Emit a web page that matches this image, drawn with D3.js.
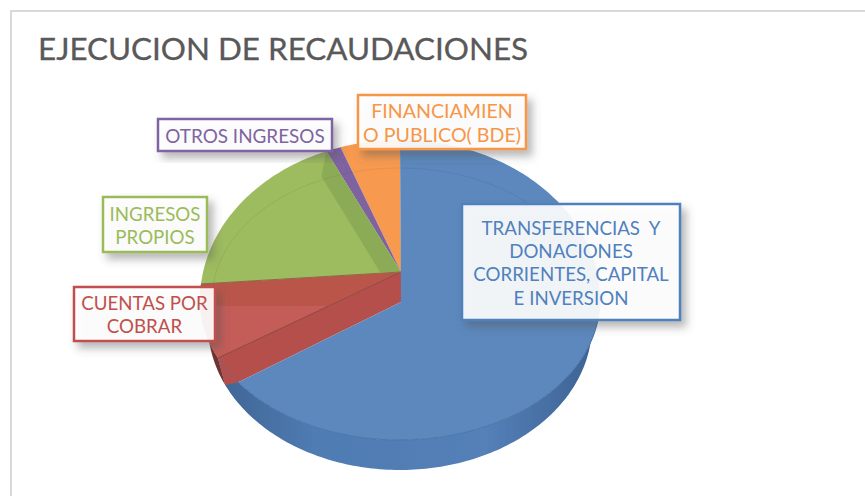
<!DOCTYPE html>
<html>
<head>
<meta charset="utf-8">
<script src="https://cdn.jsdelivr.net/npm/d3@7"></script>
<style>
html, body { margin: 0; padding: 0; background: #fff; }
svg { display: block; }
text { font-family: Lato, "Open Sans", sans-serif; }
</style>
</head>
<body>
<svg id="chart" width="865" height="496"></svg>
<script>
const chartTitle = 'EJECUCION DE RECAUDACIONES';
const categories = ['Transferencias', 'Cuentas', 'Ingresos', 'Otros', 'Financiamiento'];
const shares = [65.0, 11.6, 17.4, 1.2, 4.8];
const labelLines = [
    ['TRANSFERENCIAS  Y', 'DONACIONES', 'CORRIENTES, CAPITAL', 'E INVERSION'],
    ['CUENTAS POR', 'COBRAR'],
    ['INGRESOS', 'PROPIOS'],
    ['OTROS INGRESOS'],
    ['FINANCIAMIEN', 'O PUBLICO( BDE)']
];
const colors = ['#5b88bd', '#c0504d', '#9dbb5e', '#7f63a1', '#f79a4f'];
const textColors = ['#4f81bd', '#c0504d', '#9bbb59', '#8064a2', '#f79646'];

// label boxes: x0, y0, x1, y1
const boxes = [[462, 204, 680, 320], [74, 287, 215, 341], [103, 197, 207, 252], [158, 119, 332, 151], [358, 95, 526, 149]];
const labelSizes = [18.7, 18.7, 18.7, 18.9, 19.6];

let svg = d3.select('#chart');
const cx = 400, cy = 300, rx = 200, ryTop = 160, ryBottom = 140;
const baseCy = 325, baseRx = 192, baseRy = 145;
const apexX = 401, apexY = 272, depth = 30;

let defs = svg.append('defs');
let shadow = defs.append('filter').attr('id', 'shadow')
    .attr('x', '-15%').attr('y', '-25%').attr('width', '135%').attr('height', '160%');
shadow.append('feDropShadow').attr('dx', 5).attr('dy', 6).attr('stdDeviation', 4)
    .attr('flood-color', '#555').attr('flood-opacity', 0.45);
defs.append('filter').attr('id', 'soft')
    .append('feGaussianBlur').attr('stdDeviation', 0.5);

let wallGrad = defs.append('linearGradient').attr('id', 'wallBlue');
wallGrad.append('stop').attr('offset', '0%').attr('stop-color', '#3f6595');
wallGrad.append('stop').attr('offset', '25%').attr('stop-color', '#4f7bb2');
wallGrad.append('stop').attr('offset', '70%').attr('stop-color', '#5480b8');
wallGrad.append('stop').attr('offset', '100%').attr('stop-color', '#3c6192');

// perspective rim: the far half of the ellipse is taller than the near half
function rim(a) {
    let c = Math.cos(a);
    return [cx + rx * Math.sin(a), cy - (c > 0 ? ryTop : ryBottom) * c];
}
function base(a) {
    return [cx + baseRx * Math.sin(a), baseCy - baseRy * Math.cos(a)];
}
function sweep(fn, a0, a1) {
    let n = Math.max(2, Math.ceil(Math.abs(a1 - a0) / 0.02));
    return d3.range(n + 1).map(function(i) {
        return fn(a0 + (a1 - a0) * i / n);
    });
}
let line = d3.line();
let rad = function(deg) { return deg * Math.PI / 180; };

let arcs = d3.pie().sort(null)(shares);
let blue = arcs[0], red = arcs[1], green = arcs[2], purple = arcs[3], orange = arcs[4];
let wallEnd = blue.endAngle + rad(11.5);

function sector(a0, a1, ax, ay) {
    return line([[ax, ay]].concat(sweep(rim, a0, a1))) + 'Z';
}

let pie = svg.append('g').attr('filter', 'url(#soft)');

// outer walls
pie.append('path')
    .attr('d', line(sweep(rim, rad(90), wallEnd).concat(sweep(base, wallEnd, rad(90)))) + 'Z')
    .style('fill', 'url(#wallBlue)');
pie.append('path')
    .attr('d', line(sweep(rim, wallEnd, red.endAngle).concat(sweep(base, red.endAngle, wallEnd))) + 'Z')
    .style('fill', '#6f3330');

// top faces, far side first
pie.append('path').attr('d', sector(orange.startAngle, orange.endAngle, apexX, apexY)).style('fill', colors[4]);
pie.append('path').attr('d', sector(purple.startAngle, purple.endAngle, apexX, apexY)).style('fill', colors[3]);
pie.append('path').attr('d', sector(green.startAngle, green.endAngle, apexX, apexY)).style('fill', colors[2]);

// see-through cut wall inside the green slice
let gTop = rim(green.endAngle);
pie.append('path')
    .attr('d', line([gTop, [apexX, apexY], [apexX - 21, apexY], [gTop[0] - 5, gTop[1] + depth - 5]]) + 'Z')
    .style('fill', '#8cab57');

pie.append('path').attr('d', sector(wallEnd, red.endAngle, apexX, apexY)).style('fill', '#b9574a');

defs.append('clipPath').attr('id', 'redFace')
    .append('path').attr('d', sector(wallEnd, red.endAngle, apexX, apexY));
pie.append('rect')
    .attr('x', cx - rx).attr('y', apexY + depth + 4).attr('width', rx).attr('height', 100)
    .attr('clip-path', 'url(#redFace)')
    .style('fill', '#c45c58');

// cut wall of the red slice
let wallRim = rim(wallEnd);
pie.append('path')
    .attr('d', line([[apexX, apexY], wallRim, base(wallEnd), rim(blue.endAngle), [apexX, apexY + depth]]) + 'Z')
    .style('fill', '#b5504c');
pie.append('path')
    .attr('d', line([[apexX, apexY], wallRim]))
    .style('fill', 'none').style('stroke', '#8f4640').style('stroke-width', 1);
pie.append('path')
    .attr('d', line([rim(red.endAngle), [apexX, apexY]]))
    .style('fill', 'none').style('stroke', '#8a6a45').style('stroke-width', 1);

// big blue slice sits in front, its point pushed down by the wall height
pie.append('path')
    .attr('d', line([[apexX, apexY + depth]].concat(sweep(rim, blue.endAngle, blue.startAngle))) + 'Z')
    .style('fill', colors[0]);
pie.append('path')
    .attr('d', line(sweep(rim, rad(90), blue.endAngle)))
    .style('fill', 'none').style('stroke', '#4a74a8').style('stroke-width', 1);
pie.append('path')
    .attr('d', line(sweep(rim, blue.endAngle, wallEnd)))
    .style('fill', 'none').style('stroke', '#4a74a8').style('stroke-opacity', 0.5).style('stroke-width', 1);

// faint far edge of the pie base showing through
pie.append('path')
    .attr('d', line(d3.range(-90, 91, 2).map(function(d) {
        return [cx + (rx - 12) * Math.sin(rad(d)), cy - (ryTop - 28) * Math.cos(rad(d))];
    })))
    .style('fill', 'none').style('stroke', '#000').style('stroke-opacity', 0.06).style('stroke-width', 1);

// title and frame
svg.append('path')
    .attr('d', 'M865,11H11V496')
    .style('fill', 'none').style('stroke', '#d9d9d9').style('stroke-width', 2);
svg.append('text')
    .attr('x', 38).attr('y', 60)
    .style('font-size', '31.4px')
    .style('fill', '#595959')
    .style('stroke', '#595959').style('stroke-width', 0.3)
    .text(chartTitle);

// data labels
categories.forEach(function(name, i) {
    let b = boxes[i];
    let g = svg.append('g').attr('class', 'label ' + name);
    g.append('rect')
        .attr('x', b[0]).attr('y', b[1])
        .attr('width', b[2] - b[0]).attr('height', b[3] - b[1])
        .attr('filter', 'url(#shadow)')
        .style('fill', '#fff').style('fill-opacity', 0.9)
        .style('stroke', textColors[i]).style('stroke-width', 2.5);
    let lineH = 23.3;
    let midX = (b[0] + b[2]) / 2, midY = (b[1] + b[3]) / 2;
    labelLines[i].forEach(function(t, j) {
        g.append('text')
            .attr('x', midX)
            .attr('y', midY + 1 + (j - (labelLines[i].length - 1) / 2) * lineH)
            .attr('dy', '0.36em')
            .attr('text-anchor', 'middle')
            .attr('xml:space', 'preserve')
            .style('font-size', labelSizes[i] + 'px')
            .style('fill', textColors[i])
            .text(t);
    });
});
</script>
</body>
</html>
